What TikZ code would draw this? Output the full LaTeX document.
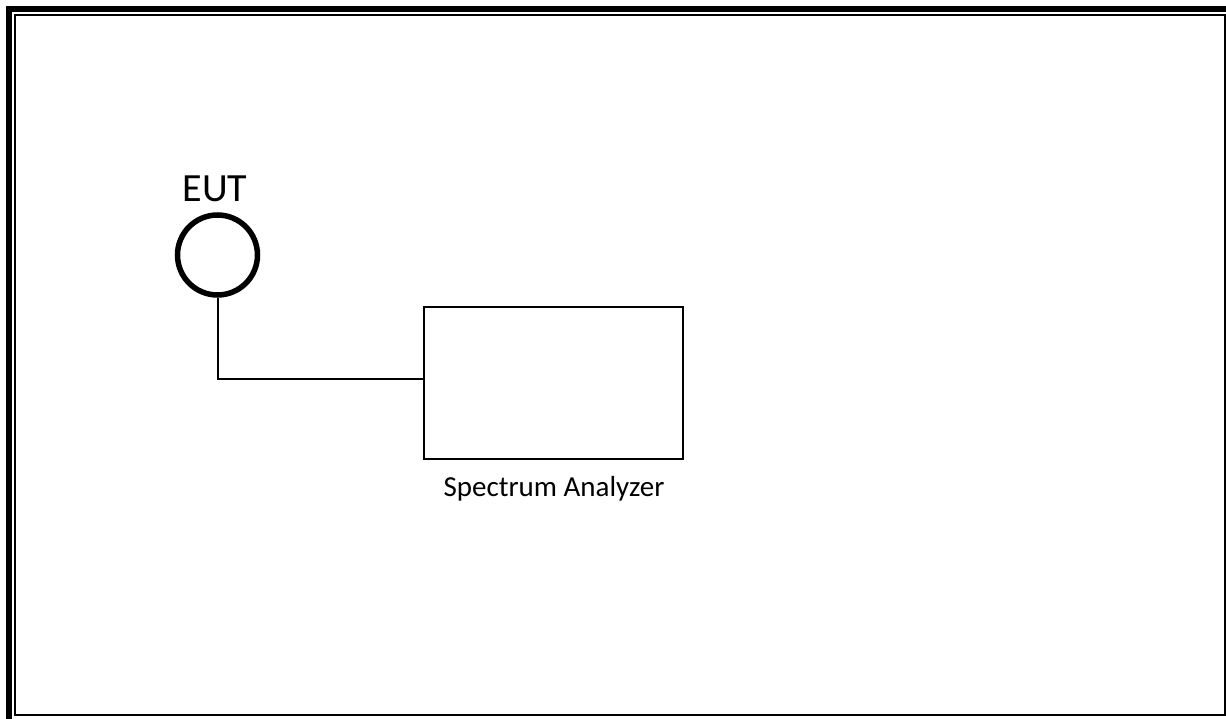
\documentclass[tikz,border=0pt]{standalone}
\usepackage{fontspec}
\setmainfont{Carlito}
\usetikzlibrary{calc}
\begin{document}
\begin{tikzpicture}[x=1bp,y=-1bp,
  thin line/.style={line width=2bp,draw=black},
  eutcircle/.style={circle,draw=black,line width=5.5bp,minimum size=80bp,inner sep=0pt},
  instbox/.style={rectangle,draw=black,line width=2bp,minimum width=259bp,minimum height=152bp,inner sep=0pt},
  bigtext/.style={font=\fontsize{40bp}{48bp}\selectfont,inner sep=0pt,anchor=base},
  smalltext/.style={font=\fontsize{29bp}{35bp}\selectfont,inner sep=0pt,anchor=base}]
\useasboundingbox (0,0) rectangle (1226,719);
\clip (0,0) rectangle (1226,719);
\fill[white] (0,0) rectangle (1226,719);
% frames
\draw[line width=6bp] (9,9) rectangle (1245,740);
\draw[thin line] (15,15) rectangle (1224.5,715);
% nodes
\node[eutcircle] (eut) at (217.5,255) {};
\node[bigtext] (eutlabel) at (215,202) {EUT};
\node[instbox] (sa) at (553.5,383) {};
\node[smalltext] (salabel) at (554,496) {Spectrum Analyzer};
% connector
\draw[thin line] (eut.south) |- ($(sa.north west)!0.474!(sa.south west)$);
\end{tikzpicture}
\end{document}
